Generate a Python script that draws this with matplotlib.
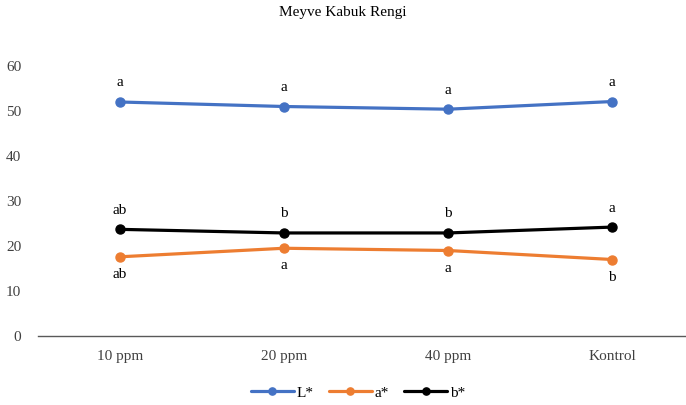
import matplotlib.pyplot as plt

plt.rcParams['font.family'] = ['Liberation Serif', 'DejaVu Serif']

categories = ['10 ppm', '20 ppm', '40 ppm', 'Kontrol']
L_vals = [52.0, 51.0, 50.4, 52.1]
a_vals = [17.6, 19.5, 19.0, 17.0]
b_vals = [23.7, 22.9, 22.9, 24.2]
L_letters = ['a', 'a', 'a', 'a']
a_letters = ['ab', 'a', 'a', 'b']
b_letters = ['ab', 'b', 'b', 'a']

fig = plt.figure(figsize=(6.86, 4.05), dpi=100)
ax = fig.add_axes([38 / 686, 69 / 405, 656 / 686, 270 / 405])

x = range(len(categories))
series = [
    ('L*', L_vals, L_letters, '#4472C4', 'above'),
    ('a*', a_vals, a_letters, '#ED7D31', 'below'),
    ('b*', b_vals, b_letters, '#000000', 'above'),
]
for name, vals, letters, color, pos in series:
    ax.plot(x, vals, color=color, lw=2.3, marker='o', ms=6.5, label=name,
            solid_capstyle='round')
    for xi, v, t in zip(x, vals, letters):
        if pos == 'above':
            ax.annotate(t, (xi, v), xytext=(0, 9), textcoords='offset points',
                        ha='center', va='bottom', fontsize=11)
        else:
            ax.annotate(t, (xi, v), xytext=(0, -8), textcoords='offset points',
                        ha='center', va='top', fontsize=11)

ax.set_xlim(-0.5, 3.5)
ax.set_ylim(0, 60)
ax.set_yticks(range(0, 61, 10))
ax.set_xticks(list(x))
ax.set_xticklabels(categories)
ax.tick_params(length=0, labelsize=11, colors='#404040')
ax.tick_params(axis='x', pad=10)
ax.tick_params(axis='y', pad=12)
for s in ['top', 'right', 'left']:
    ax.spines[s].set_visible(False)
ax.spines['bottom'].set_color('#595959')
ax.spines['bottom'].set_linewidth(1.0)

fig.suptitle('Meyve Kabuk Rengi', x=0.5, y=0.985, fontsize=11, va='top')
fig.legend(loc='center', bbox_to_anchor=(0.522, 0.03), ncol=3, frameon=False,
           fontsize=11, handlelength=2.8, columnspacing=1.0, handletextpad=0.2,
           markerscale=0.8)

fig.savefig('out.png', dpi=100)
